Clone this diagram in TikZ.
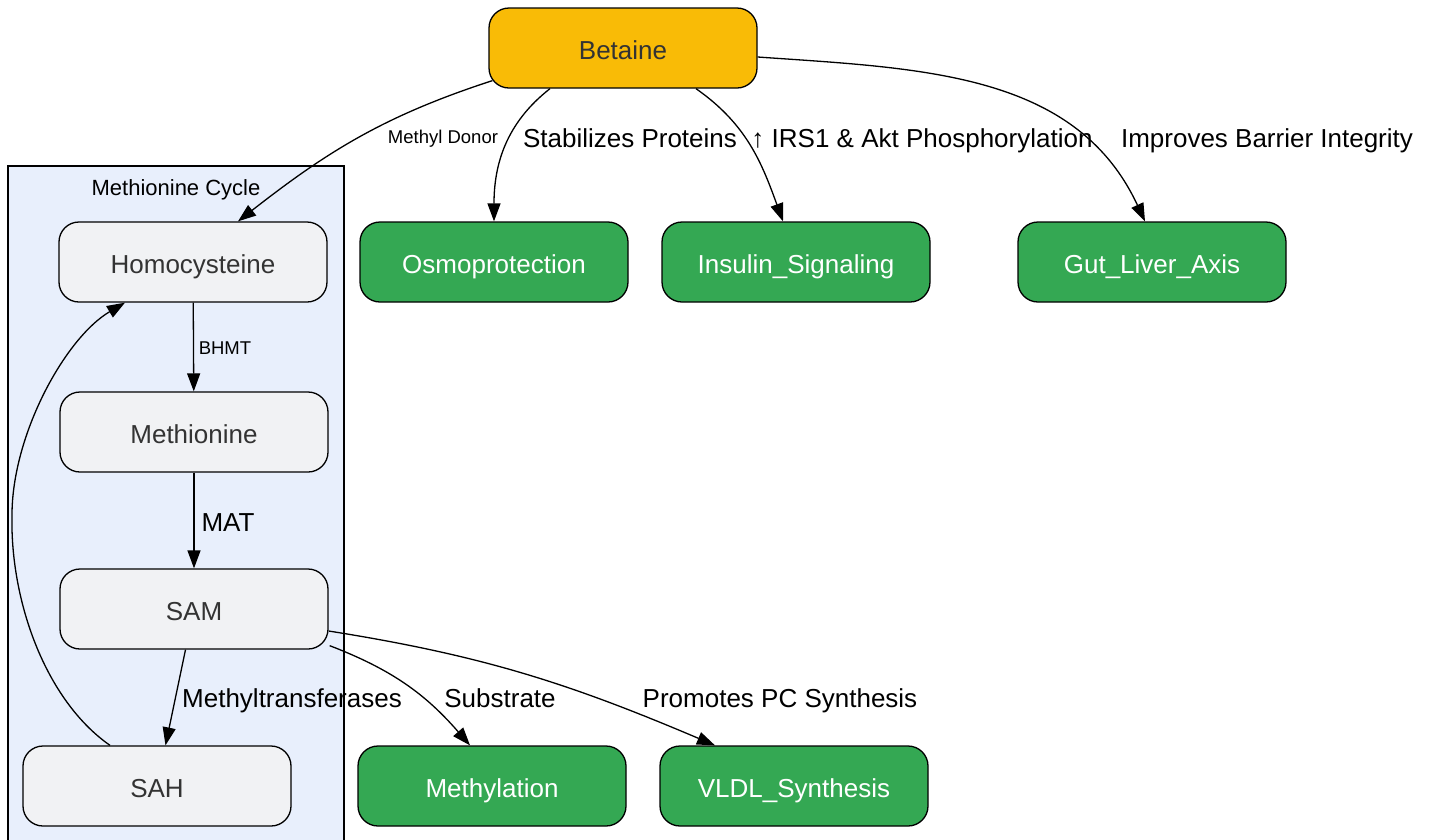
\documentclass[tikz,border=0pt]{standalone}
\usepackage{fontspec}
\setmainfont{Liberation Sans}
\usetikzlibrary{arrows.meta}
\definecolor{betainefill}{HTML}{F9BB06}
\definecolor{cyclefill}{HTML}{E8EFFC}
\definecolor{metabfill}{HTML}{F1F2F4}
\definecolor{effectfill}{HTML}{34A853}
\definecolor{nodetext}{HTML}{333333}

\begin{document}
\begin{tikzpicture}[x=1pt, y=-1pt,
    box/.style={draw=black, line width=1.3pt, rounded corners=20pt, minimum width=268pt,
        minimum height=80pt, inner sep=0pt, text height=24pt, text depth=2pt,
        font=\fontsize{26}{30}\selectfont},
    source/.style={box, fill=betainefill, text=nodetext},
    metab/.style={box, fill=metabfill, text=nodetext},
    effect/.style={box, fill=effectfill, text=white},
    lbl/.style={font=\fontsize{26}{30}\selectfont, inner sep=0pt, text height=20pt, text depth=2pt},
    smalllbl/.style={font=\fontsize{18.5}{22}\selectfont, inner sep=0pt, text height=14pt, text depth=1.4pt},
    arr/.style={-{Triangle[length=18pt,width=13pt]}, line width=1.3pt}]
    \useasboundingbox (0,0) rectangle (1433,839);
    % methionine cycle cluster
    \draw (8,166) [fill=cyclefill, line width=1.3pt] rectangle (344,850);
    \node (cyclelabel) at (176,187) [font=\fontsize{22}{26}\selectfont, inner sep=0pt,
        text height=17pt, text depth=1pt] {Methionine Cycle};
    % nodes
    \node (betaine) at (623,48) [source] {Betaine};
    \node (homocysteine) at (193,262) [metab] {Homocysteine};
    \node (methionine) at (194,432) [metab] {Methionine};
    \node (sam) at (194,609) [metab] {SAM};
    \node (sah) at (157,786) [metab] {SAH};
    \node (osmo) at (494,262) [effect] {Osmoprotection};
    \node (insulin) at (796,262) [effect] {Insulin\_Signaling};
    \node (gutliver) at (1152,262) [effect] {Gut\_Liver\_Axis};
    \node (methylation) at (492,786) [effect] {Methylation};
    \node (vldl) at (794,786) [effect] {VLDL\_Synthesis};
    % edges from betaine
    \draw[arr] ([xshift=4pt,yshift=8pt]betaine.south west) to[out=198,in=38] ([xshift=45pt]homocysteine.north);
    \draw[arr] ([xshift=-73pt]betaine.south) to[out=218,in=90] (osmo.north);
    \draw[arr] ([xshift=73pt]betaine.south) to[out=-35,in=110] ([xshift=-13pt]insulin.north);
    \draw[arr] ([yshift=-9pt]betaine.east) to[out=-4,in=115] ([xshift=-7pt]gutliver.north);
    % cycle
    \draw[arr] (homocysteine) -- (methionine);
    \draw[arr] (methionine) -- (sam);
    \draw[arr] (sam) -- (sah);
    \coordinate (backleft) at (12,515);
    \draw[arr] ([xshift=-47pt]sah.north) .. controls (45,700) and (10,600) .. (backleft)
        .. controls (12,435) and (65,338) .. ([xshift=-68pt]homocysteine.south);
    % edges from sam
    \draw[arr] ([xshift=1pt,yshift=4pt]sam.south east) to[out=-21,in=131] ([xshift=-22pt]methylation.north);
    \draw[arr] ([yshift=-22pt]sam.east) to[out=-9,in=157] ([xshift=-79pt]vldl.north);
    % labels
    \node (lbldonor) at (443,137) [smalllbl] {Methyl Donor};
    \node (lblstab) at (630,138) [lbl] {Stabilizes Proteins};
    \node (lblirs) at (922,138) [lbl] {↑ IRS1 \& Akt Phosphorylation};
    \node (lblbarrier) at (1267,138) [lbl] {Improves Barrier Integrity};
    \node (lblbhmt) at (225,348) [smalllbl] {BHMT};
    \node (lblmat) at (228,522) [lbl] {MAT};
    \node (lblmtase) at (292,698) [lbl] {Methyltransferases};
    \node (lblsubstrate) at (500,698) [lbl] {Substrate};
    \node (lblpc) at (780,698) [lbl] {Promotes PC Synthesis};
\end{tikzpicture}
\end{document}
